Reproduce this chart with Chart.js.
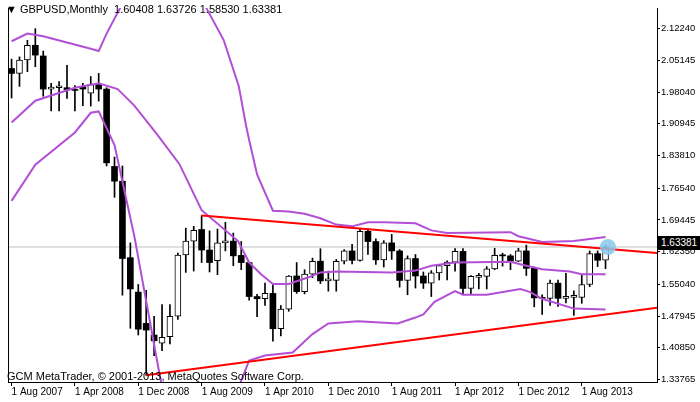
<!DOCTYPE html>
<html lang="en">
<head>
<meta charset="UTF-8">
<title>GBPUSD Monthly</title>
<style>
    body { margin: 0; padding: 0; background: #fff; font-family: "Liberation Sans", Arial, sans-serif; }
    .wrap { position: relative; width: 700px; height: 402px; }
    canvas { position: absolute; left: 0; top: 0; }
    .title { position: absolute; left: 6px; top: 3px; font-size: 11px; color: #000; }
    .copy { position: absolute; left: 7px; top: 370px; font-size: 11px; color: #000; }
    .price { position: absolute; left: 658px; top: 236px; width: 42px; height: 14px; background: #000;
             color: #fff; font-size: 10px; line-height: 14px; text-align: left; padding-left: 3px; box-sizing: border-box; }
</style>
</head>
<body>
<div class="wrap">
    <canvas id="chart" width="700" height="402"></canvas>
    <div class="title">&#9660; GBPUSD,Monthly&nbsp; 1.60408 1.63726 1.58530 1.63381</div>
    <div class="copy">GCM MetaTrader, © 2001-2013, MetaQuotes Software Corp.</div>
    <div class="price">1.63381</div>
</div>

<script src="https://cdn.jsdelivr.net/npm/chart.js"></script>
<script>
    // monthly candles, Aug 2007 .. Nov 2013 (index 0..75)
    const opens  = [2.033,2.022,2.052,2.085,2.061,1.987,1.990,1.990,1.986,1.993,1.978,1.997,
                    1.987,1.814,1.781,1.610,1.533,1.463,1.437,1.419,1.433,1.479,1.616,1.647,
                    1.673,1.627,1.603,1.643,1.647,1.615,1.599,1.523,1.518,1.530,1.451,1.495,
                    1.569,1.534,1.573,1.602,1.558,1.559,1.602,1.625,1.604,1.669,1.646,1.605,
                    1.643,1.625,1.559,1.608,1.569,1.553,1.576,1.592,1.600,1.624,1.541,1.566,
                    1.568,1.585,1.615,1.614,1.602,1.625,1.586,1.520,1.519,1.553,1.519,1.521,
                    1.521,1.550,1.619,1.60408];
    const highs  = [2.054,2.059,2.096,2.122,2.072,2.000,2.004,2.040,1.995,2.000,2.015,2.022,
                    1.990,1.835,1.815,1.643,1.550,1.537,1.479,1.505,1.505,1.620,1.676,1.680,
                    1.704,1.670,1.674,1.689,1.665,1.646,1.599,1.528,1.553,1.550,1.503,1.570,
                    1.599,1.583,1.609,1.630,1.580,1.606,1.628,1.640,1.674,1.675,1.652,1.648,
                    1.662,1.628,1.614,1.617,1.578,1.581,1.595,1.603,1.630,1.630,1.570,1.575,
                    1.590,1.631,1.620,1.617,1.631,1.638,1.589,1.527,1.560,1.560,1.575,1.536,
                    1.572,1.625,1.625,1.63726];
    const lows   = [1.967,1.993,2.026,2.037,1.971,1.938,1.938,1.966,1.938,1.950,1.949,1.960,
                    1.815,1.745,1.526,1.452,1.437,1.347,1.391,1.402,1.417,1.472,1.577,1.580,
                    1.599,1.578,1.572,1.625,1.592,1.583,1.515,1.478,1.503,1.423,1.435,1.490,
                    1.530,1.529,1.565,1.552,1.535,1.535,1.596,1.596,1.602,1.617,1.595,1.589,
                    1.606,1.544,1.527,1.542,1.541,1.523,1.560,1.560,1.580,1.527,1.527,1.540,
                    1.540,1.583,1.591,1.583,1.601,1.570,1.500,1.483,1.503,1.501,1.509,1.481,
                    1.508,1.545,1.590,1.58530];
    const closes = [2.022,2.052,2.085,2.063,1.987,1.991,1.991,1.986,1.984,1.987,1.997,1.987,
                    1.822,1.781,1.608,1.540,1.450,1.448,1.424,1.432,1.479,1.616,1.647,1.671,
                    1.627,1.599,1.643,1.645,1.614,1.599,1.523,1.518,1.530,1.451,1.495,1.569,
                    1.534,1.573,1.602,1.558,1.559,1.602,1.625,1.604,1.669,1.646,1.605,1.643,
                    1.625,1.559,1.608,1.569,1.553,1.576,1.592,1.600,1.624,1.541,1.568,1.570,
                    1.585,1.615,1.614,1.602,1.625,1.586,1.520,1.519,1.553,1.519,1.521,1.521,
                    1.550,1.619,1.6041,1.63381];

    // bollinger bands (month index, price)
    const upperIdx = [0, 2, 4, 10, 11, 12, 13.7, 16, 20, 24.6, 26.8, 28.7, 29.6, 30, 31, 33, 35, 37, 39, 41, 43, 45, 47, 51, 53, 55, 63, 64, 67, 71, 75];
    const upperVal = [2.094, 2.111, 2.105, 2.077, 2.072, 2.111, 2.168, 2.30, 2.35, 2.168, 2.096, 1.993, 1.906, 1.873, 1.796, 1.715, 1.713, 1.708, 1.698, 1.684, 1.680, 1.689, 1.689, 1.687, 1.671, 1.665, 1.667, 1.658, 1.645, 1.647, 1.656];
    const midIdx = [0, 3, 8, 11, 13.4, 15.5, 18.4, 21.2, 24, 28.6, 30, 31.5, 33, 35, 37.5, 39, 41, 48, 51, 53, 56, 63, 65, 67, 70.5, 72, 75];
    const midVal = [1.912, 1.961, 1.990, 2.000, 1.987, 1.950, 1.885, 1.819, 1.716, 1.647, 1.599, 1.573, 1.551, 1.551, 1.566, 1.577, 1.579, 1.577, 1.581, 1.592, 1.599, 1.601, 1.592, 1.584, 1.579, 1.573, 1.573];
    const lowerIdx = [0, 3, 8, 10, 11, 13, 15.5, 18.75, 22, 26, 30, 32, 35.5, 38, 40, 43.75, 48.75, 51, 52, 53.4, 56, 57, 60, 64.25, 65.5, 67, 71, 75];
    const lowerVal = [1.737, 1.818, 1.890, 1.934, 1.937, 1.862, 1.658, 1.343, 1.10, 1.20, 1.380, 1.391, 1.398, 1.439, 1.463, 1.468, 1.463, 1.476, 1.483, 1.511, 1.535, 1.527, 1.527, 1.540, 1.533, 1.518, 1.496, 1.494];

    // trend lines
    const resistance = [[24, 1.704], [81.5, 1.6205]];
    const support = [[17, 1.347], [81.5, 1.498]];
    const lastPrice = 1.63381;

    const xTickIdx = [0, 8, 16, 24, 32, 40, 48, 56, 64, 72];
    const xTickLabels = ['1 Aug 2007', '1 Apr 2008', '1 Dec 2008', '1 Aug 2009', '1 Apr 2010',
                         '1 Dec 2010', '1 Aug 2011', '1 Apr 2012', '1 Dec 2012', '1 Aug 2013'];
    const yTicks = [2.12240, 2.05145, 1.98040, 1.90945, 1.83810, 1.76540, 1.69445, 1.62350,
                    1.55040, 1.47945, 1.40850, 1.33765];

    const X_MIN = -0.45, X_MAX = 81.5;
    const purple = '#b24fd6';

    const wicks = opens.map((o, i) => ({ x: i, y: [lows[i], highs[i]] }));
    const upBodies = [], downBodies = [];
    opens.forEach((o, i) => {
        const c = closes[i];
        const bar = { x: i, y: [Math.min(o, c), Math.max(o, c)] };
        if (c >= o) upBodies.push(bar); else downBodies.push(bar);
    });
    const pts = (xs, ys) => xs.map((x, i) => ({ x: x, y: ys[i] }));

    const frame = {
        id: 'frame',
        afterDraw(chart) {
            const a = chart.chartArea, ctx = chart.ctx;
            ctx.save();
            ctx.strokeStyle = '#000';
            ctx.lineWidth = 1;
            ctx.beginPath();
            ctx.moveTo(a.left + 0.5, a.top);
            ctx.lineTo(a.left + 0.5, a.bottom);
            ctx.stroke();
            ctx.restore();
        }
    };

    new Chart(document.getElementById('chart'), {
        data: {
            datasets: [
                { type: 'line', data: [{ x: X_MIN, y: lastPrice }, { x: X_MAX, y: lastPrice }],
                  borderColor: '#c0c0c0', borderWidth: 1, pointRadius: 0, order: 6 },
                { type: 'bar', data: wicks, backgroundColor: '#000', barThickness: 1, grouped: false, order: 5 },
                { type: 'bar', data: downBodies, backgroundColor: '#000', borderColor: '#000', borderWidth: 0,
                  barThickness: 6, minBarLength: 1, grouped: false, order: 4 },
                { type: 'bar', data: upBodies, backgroundColor: '#fff', borderColor: '#000', borderWidth: 1,
                  borderSkipped: false, barThickness: 6, minBarLength: 2, grouped: false, order: 4 },
                { type: 'line', data: pts(upperIdx, upperVal), borderColor: purple, borderWidth: 2, pointRadius: 0, order: 3 },
                { type: 'line', data: pts(midIdx, midVal), borderColor: purple, borderWidth: 2, pointRadius: 0, order: 3 },
                { type: 'line', data: pts(lowerIdx, lowerVal), borderColor: purple, borderWidth: 2, pointRadius: 0, order: 3 },
                { type: 'line', data: resistance.map(p => ({ x: p[0], y: p[1] })), borderColor: '#ff0000', borderWidth: 2, pointRadius: 0, order: 2 },
                { type: 'line', data: support.map(p => ({ x: p[0], y: p[1] })), borderColor: '#ff0000', borderWidth: 2, pointRadius: 0, order: 2 },
                { type: 'scatter', data: [{ x: 75.3, y: lastPrice }], pointRadius: 8, pointStyle: 'circle',
                  backgroundColor: 'rgba(135,200,235,0.85)', borderWidth: 0, order: 1 }
            ]
        },
        options: {
            responsive: false,
            animation: false,
            layout: { padding: { left: 1, top: 1 } },
            plugins: { legend: { display: false }, tooltip: { enabled: false } },
            scales: {
                x: {
                    type: 'linear', min: X_MIN, max: X_MAX, offset: false,
                    afterBuildTicks: s => { s.ticks = xTickIdx.map(v => ({ value: v })); },
                    afterFit: s => { s.height = 20; },
                    grid: { display: true, offset: false, drawOnChartArea: false, drawTicks: true, tickLength: 4, color: '#000' },
                    border: { display: true, color: '#000' },
                    ticks: {
                        autoSkip: false, maxRotation: 0, align: 'start', padding: 0, color: '#000',
                        font: { family: 'Liberation Sans', size: 10 },
                        callback: v => xTickLabels[xTickIdx.indexOf(v)]
                    }
                },
                y: {
                    position: 'right', min: 1.3319, max: 2.1683,
                    afterBuildTicks: s => { s.ticks = yTicks.map(v => ({ value: v })); },
                    afterFit: s => { s.width = 43; },
                    grid: { display: true, drawOnChartArea: false, drawTicks: true, tickLength: 3, color: '#000' },
                    border: { display: true, color: '#000' },
                    ticks: {
                        padding: 1, color: '#000',
                        font: { family: 'Liberation Sans', size: 9.5 },
                        callback: v => v.toFixed(5)
                    }
                }
            }
        },
        plugins: [frame]
    });
</script>
</body>
</html>
